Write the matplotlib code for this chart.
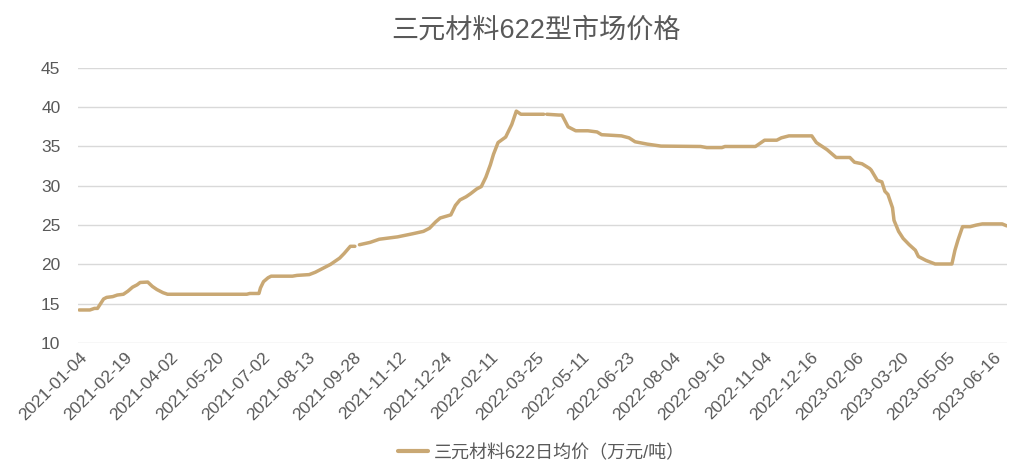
import matplotlib
matplotlib.use("Agg")
import matplotlib.pyplot as plt
import numpy as np

# trading-day index (0 = 2021-01-04) and price readings, 万元/吨
idx = [0, 7, 10, 12, 16, 18, 22, 25, 29, 32, 35, 38, 40, 45, 48, 51, 55, 58,
       110, 112, 118, 119, 121, 124, 126, 140, 143, 151, 155, 160, 165, 171,
       174, 178, 181, 182, 184, 191, 197, 209, 219, 226, 230, 234, 237, 244,
       247, 250, 254, 257, 261, 264, 267, 270, 272, 275, 280, 284, 287, 290,
       305, 306, 307, 315, 317, 321, 326, 334, 340, 343, 356, 361, 365, 373,
       382, 408, 412, 422, 424, 444, 450, 458, 461, 466, 481, 484, 491, 497,
       506, 509, 514, 519, 520, 524, 527, 529, 531, 534, 535, 538, 541, 545,
       549, 551, 556, 562, 573, 575, 577, 580, 585, 589, 593, 606, 609]
price = [14.2, 14.2, 14.4, 14.4, 15.6, 15.8, 15.9, 16.1, 16.2, 16.6, 17.1,
         17.4, 17.7, 17.75, 17.2, 16.8, 16.4, 16.2,
         16.2, 16.3, 16.3, 17.0, 17.8, 18.3, 18.5, 18.5, 18.6, 18.7, 19.0,
         19.5, 20.0, 20.8, 21.4, 22.3, 22.3, np.nan, 22.5, 22.8, 23.2, 23.5,
         23.9, 24.2, 24.6, 25.4, 25.9, 26.3, 27.5, 28.2, 28.6, 29.0, 29.6,
         29.9, 31.1, 32.7, 34.0, 35.5, 36.2, 37.8, 39.5, 39.1,
         39.1, np.nan, 39.1, 39.0, 39.0, 37.5, 37.0, 37.0, 36.85, 36.5, 36.35,
         36.1, 35.6, 35.3, 35.05, 35.0, 34.86, 34.86, 35.0, 35.0, 35.8, 35.8,
         36.1, 36.35, 36.35, 35.5, 34.6, 33.6, 33.6, 33.0, 32.8, 32.2, 32.0,
         30.7, 30.5, 29.3, 28.9, 27.2, 25.6, 24.2, 23.3, 22.5, 21.8, 21.0,
         20.5, 20.05, 20.05, 21.8, 23.1, 24.8, 24.8, 25.0, 25.15, 25.15, 24.9]
n_days = 610

tick_labels = ["2021-01-04", "2021-02-19", "2021-04-02", "2021-05-20",
               "2021-07-02", "2021-08-13", "2021-09-28", "2021-11-12",
               "2021-12-24", "2022-02-11", "2022-03-25", "2022-05-11",
               "2022-06-23", "2022-08-04", "2022-09-16", "2022-11-04",
               "2022-12-16", "2023-02-06", "2023-03-20", "2023-05-05",
               "2023-06-16"]
tick_pos = [30 * k for k in range(len(tick_labels))]

plt.rcParams['font.family'] = ['Liberation Sans', 'Noto Sans CJK SC', 'DejaVu Sans']
grey = '#595959'
gold = '#C9A874'

fig = plt.figure(figsize=(10.27, 4.65), dpi=100)
ax = fig.add_axes([0.0764, 0.2624, 0.9046, 0.5916])

ax.plot(idx, price, color=gold, lw=2.5, solid_capstyle='round',
        solid_joinstyle='round', label='三元材料622日均价（万元/吨）')

ax.set_xlim(-0.5, n_days - 0.5)
ax.set_ylim(10, 45)
ax.set_yticks(range(10, 46, 5))
ax.set_xticks(tick_pos)
ax.set_xticklabels(tick_labels, rotation=45, ha='right', rotation_mode='anchor')
ax.tick_params(axis='both', length=0, colors=grey, labelsize=12.5)
ax.tick_params(axis='y', pad=13)
ax.tick_params(axis='x', pad=5)
ax.grid(axis='y', color='#D9D9D9', lw=1)
ax.set_axisbelow(True)
for s in ax.spines.values():
    s.set_visible(False)

fig.text(0.522, 0.935, '三元材料622型市场价格', ha='center', va='center',
         fontsize=19.5, color=grey)

leg = fig.legend(loc='lower center', bbox_to_anchor=(0.527, -0.028), frameon=False,
                 fontsize=13, handlelength=1.7, handletextpad=0.3)
for t in leg.get_texts():
    t.set_color(grey)
for h in leg.get_lines():
    h.set_linewidth(3)

fig.savefig('out.png', dpi=100)
